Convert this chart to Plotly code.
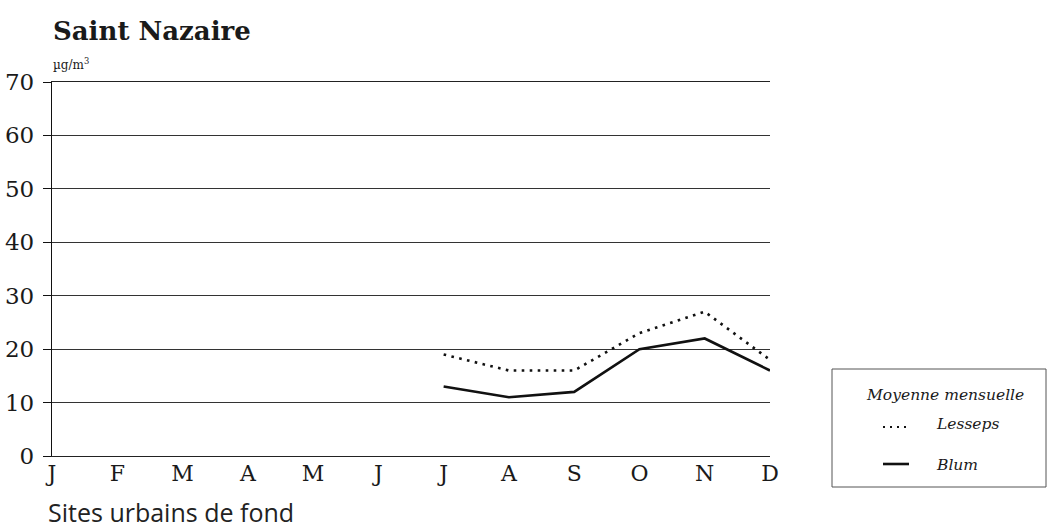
import plotly.graph_objects as go

months = ["J", "F", "M", "A", "M", "J", "J", "A", "S", "O", "N", "D"]
month_idx = list(range(12))
measured_idx = [6, 7, 8, 9, 10, 11]
lesseps = [19, 16, 16, 23, 27, 18]
blum = [13, 11, 12, 20, 22, 16]
y_ticks = [0, 10, 20, 30, 40, 50, 60, 70]

W, H = 1054, 531
L, R, T, B = 52, 770, 82, 456

serif = "DejaVu Serif"

fig = go.Figure()
fig.add_trace(go.Scatter(x=measured_idx, y=lesseps, mode="lines", name="Lesseps",
                         line=dict(color="#111", width=2.6, dash="2.6px,5.4px"),
                         showlegend=False, cliponaxis=False))
fig.add_trace(go.Scatter(x=measured_idx, y=blum, mode="lines", name="Blum",
                         line=dict(color="#111", width=2.6), showlegend=False,
                         cliponaxis=False))


def px(x):
    return (x - L) / (R - L)


def py(y):
    return (B - y) / (B - T)


shapes = [
    # legend frame
    dict(type="rect", xref="paper", yref="paper", x0=px(832), x1=px(1046), y0=py(487), y1=py(369),
         line=dict(color="#555", width=1)),
    dict(type="line", xref="paper", yref="paper", x0=px(883), x1=px(908), y0=py(427), y1=py(427),
         line=dict(color="#111", width=2.2, dash="2px,5px")),
    dict(type="line", xref="paper", yref="paper", x0=px(883), x1=px(909), y0=py(464), y1=py(464),
         line=dict(color="#111", width=2.6)),
]

annotations = [
    dict(text="<b>Saint Nazaire</b>", xref="paper", yref="paper", x=px(51), y=py(31),
         xanchor="left", yanchor="middle", showarrow=False,
         font=dict(family=serif, size=26, color="#1a1a1a")),
    dict(text="µg/m<sup>3</sup>", xref="paper", yref="paper", x=px(51), y=py(64),
         xanchor="left", yanchor="middle", showarrow=False,
         font=dict(family=serif, size=12, color="#1a1a1a")),
    dict(text="Sites urbains de fond", xref="paper", yref="paper", x=px(46), y=py(512),
         xanchor="left", yanchor="middle", showarrow=False,
         font=dict(family="Open Sans", size=25, color="#222")),
    dict(text="<i>Moyenne mensuelle</i>", xref="paper", yref="paper", x=px(945), y=py(395),
         xanchor="center", yanchor="middle", showarrow=False,
         font=dict(family=serif, size=15.5, color="#1a1a1a")),
    dict(text="<i>Lesseps</i>", xref="paper", yref="paper", x=px(934), y=py(424),
         xanchor="left", yanchor="middle", showarrow=False,
         font=dict(family=serif, size=15.5, color="#1a1a1a")),
    dict(text="<i>Blum</i>", xref="paper", yref="paper", x=px(934), y=py(465),
         xanchor="left", yanchor="middle", showarrow=False,
         font=dict(family=serif, size=15.5, color="#1a1a1a")),
]

fig.update_layout(
    width=W, height=H,
    margin=dict(l=L, r=W - R, t=T, b=H - B, pad=0, autoexpand=False),
    paper_bgcolor="white", plot_bgcolor="white",
    shapes=shapes, annotations=annotations,
    xaxis=dict(range=[0, 11], tickmode="array", tickvals=month_idx, ticktext=months,
               showgrid=False, zeroline=False, showline=True, mirror=True,
               linecolor="#222", linewidth=1.2, ticks="",
               tickfont=dict(family=serif, size=22, color="#1a1a1a"),
               ticklabelstandoff=-3, automargin=False, fixedrange=True),
    yaxis=dict(range=[0, 70], tickmode="array", tickvals=y_ticks,
               showgrid=True, gridcolor="#333", gridwidth=1.2,
               zeroline=False, showline=True, linecolor="#111", linewidth=1.4,
               ticks="outside", ticklen=8, tickcolor="#111", tickwidth=1.2,
               tickfont=dict(family=serif, size=23, color="#1a1a1a"),
               ticklabelstandoff=4, automargin=False, fixedrange=True),
)

fig.write_html("out.html")
